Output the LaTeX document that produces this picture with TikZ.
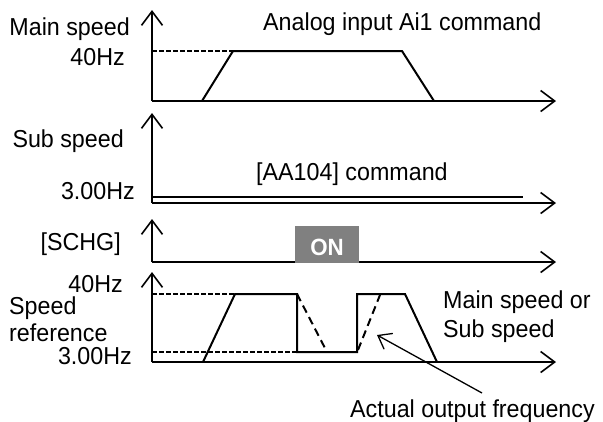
\documentclass[tikz,border=0pt]{standalone}
\usepackage{fontspec}
\setmainfont[FakeStretch=0.95]{Liberation Sans}
\usetikzlibrary{arrows.meta}
\begin{document}
\begin{tikzpicture}[x=1pt,y=-1pt,
  axis/.style={line width=1.9pt, -{Straight Barb[length=14pt,width=21pt,line width=1.6pt]}},
  sig/.style={line width=2pt, line join=miter},
  refline/.style={line width=1.3pt, dash pattern=on 4.6pt off 2.4pt},
  dsig/.style={line width=2pt, dash pattern=on 8pt off 5pt},
  lbl/.style={font=\fontsize{24.5}{27}\selectfont, inner sep=0pt},
  pointer/.style={line width=1.3pt, -{Straight Barb[length=12pt,width=18pt,line width=1.3pt]}}]
\useasboundingbox (0,0) rectangle (603,421);

% ---------- panel 1 : main speed ----------
\coordinate (o1) at (152,101);
\draw[axis] (o1) -- (152,10);
\draw[axis] (o1) -- (556,101);
\draw[refline] (152,51) -- (233,51);
\draw[sig] (202,101) -- (233,51) -- (402,51) -- (434,101);
\node[lbl, anchor=base east] (mainlbl) at (130,35) {Main speed};
\node[lbl, anchor=base east] (main40) at (125,65) {40Hz};
\node[lbl, anchor=base west] (analog) at (263,30) {Analog input Ai1 command};

% ---------- panel 2 : sub speed ----------
\coordinate (o2) at (152,203);
\draw[axis] (o2) -- (152,113);
\draw[axis] (o2) -- (556,203);
\draw[line width=1.6pt] (152,197) -- (523,197);
\node[lbl, anchor=base east] (sublbl) at (124,147) {Sub speed};
\node[lbl, anchor=base east] (sub3) at (135,199) {3.00Hz};
\node[lbl, anchor=base west] (aa104) at (256,180) {[AA104] command};

% ---------- panel 3 : SCHG ----------
\coordinate (o3) at (152,262);
\draw[axis] (o3) -- (152,219);
\draw[axis] (o3) -- (556,262);
\fill[fill={rgb,255:red,128;green,128;blue,128}] (295,226) rectangle (359,263);
\node[font=\fontsize{23.5}{25}\selectfont\bfseries, text=white, inner sep=0pt, anchor=base] (on) at (327,255) {ON};
\node[lbl, anchor=base east] (schg) at (121,250) {[SCHG]};

% ---------- panel 4 : speed reference ----------
\coordinate (o4) at (152,362);
\draw[axis] (o4) -- (152,272);
\draw[axis] (o4) -- (556,362);
\draw[refline] (152,294) -- (235,294);
\draw[refline] (152,352) -- (297,352);
\draw[sig] (203,362) -- (235,294) -- (297,294) -- (297,352) -- (357,352) -- (357,294) -- (405,294) -- (437,362);
\draw[dsig] (297,294) -- (327,352);
\draw[dsig] (358,350) -- (380,295);
\node[lbl, anchor=base east] (sp40) at (123,292) {40Hz};
\node[lbl, anchor=base west] (speed) at (9,314) {Speed};
\node[lbl, anchor=base west] (reference) at (9,341) {reference};
\node[lbl, anchor=base east] (sp3) at (132,364) {3.00Hz};
\node[lbl, anchor=base west] (mainor) at (443,308) {Main speed or};
\node[lbl, anchor=base west] (subsp) at (443,337) {Sub speed};
\node[lbl, anchor=base west] (actual) at (350,417) {Actual output frequency};
\coordinate (pstart) at (482,393);
\coordinate (ptip) at (377,335);
\draw[pointer] (pstart) -- (ptip);
\end{tikzpicture}
\end{document}
